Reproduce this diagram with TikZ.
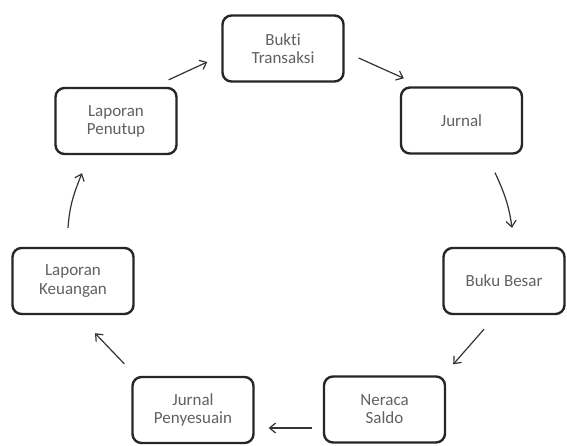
\documentclass[tikz,border=0pt]{standalone}
\usepackage{fontspec}
\setmainfont{Carlito}[Ligatures=NoCommon]
\usetikzlibrary{arrows.meta,calc}
\begin{document}
\begin{tikzpicture}[x=1pt,y=-1pt,
  box/.style={draw=black!85, line width=2.4pt, rounded corners=9pt,
    minimum width=121pt, minimum height=66pt, align=center,
    text=black!62, font=\fontsize{17}{18}\selectfont},
  arr/.style={draw=black!80, line width=1.2pt,
    -{Straight Barb[length=6pt,width=10pt,line width=1.2pt]}}]
\useasboundingbox[fill=white] (0,0) rectangle (567,445);

% the seven stages of the cycle
\node[box] (bt) at (283,48.5)  {Bukti\\Transaksi};
\node[box] (jr) at (461.5,120.5) {Jurnal};
\node[box] (bb) at (504,281)  {Buku Besar};
\node[box] (ns) at (384.5,409.5) {Neraca\\Saldo};
\node[box] (jp) at (193,410)  {Jurnal\\Penyesuain};
\node[box] (lk) at (73,281)   {Laporan\\Keuangan};
\node[box] (lp) at (116,121)  {Laporan\\Penutup};

% connectors between stages
\draw[arr] ($(bt.east)+(14,9.5)$) -- ($(jr.north west)+(4,-8)$);
\draw[arr] ($(jr.south)+(33.5,18)$) to[out=-65,in=98] ($(bb.north)+(8,-19)$);
\draw[arr] ($(bb.south)+(-20,14)$) -- ($(ns.north east)+(7,-11)$);
\draw[arr] ($(ns.west)+(-11,18.5)$) -- ($(jp.east)+(14,18)$);
\draw[arr] ($(jp.north west)+(-7,-12)$) -- ($(lk.south)+(22,18)$);
\draw[arr] ($(lk.north)+(-5,-19)$) to[out=86,in=-112] ($(lp.south)+(-34,18)$);
\draw[arr] ($(lp.north east)+(-9,-7)$) -- ($(bt.west)+(-14,13.5)$);
\end{tikzpicture}
\end{document}
